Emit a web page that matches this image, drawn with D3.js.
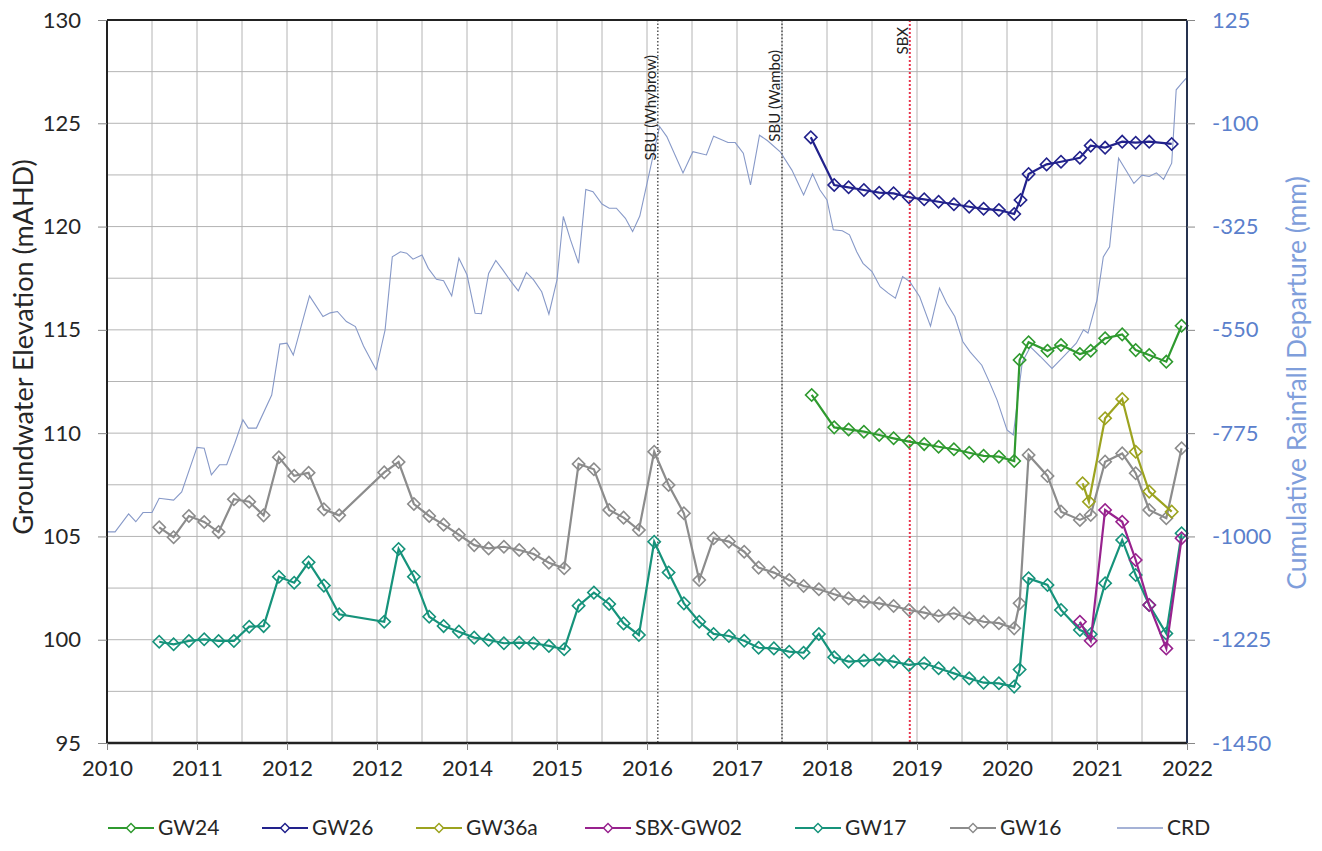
<!DOCTYPE html>
<html>
<head>
<meta charset="utf-8">
<script src="https://cdn.jsdelivr.net/npm/d3@7"></script>
<style>
	body { margin: 0; background: #fff; }
	text { font-family: Lato, "Open Sans", sans-serif; }
</style>
</head>
<body>
<div id="graph"></div>
<script>
// year tick labels as printed on the original (note the repeated 2012)
var yearTicks = [2010, 2011, 2012, 2013, 2014, 2015, 2016, 2017, 2018, 2019, 2020, 2021, 2022];
var yearLabels = ["2010", "2011", "2012", "2012", "2014", "2015", "2016", "2017", "2018", "2019", "2020", "2021", "2022"];
var elevTicks = [95, 100, 105, 110, 115, 120, 125, 130];
var crdTicks = [-1450, -1225, -1000, -775, -550, -325, -100, 125];

// [decimal year, groundwater elevation mAHD]
var gw16 = [[2010.58,105.44],[2010.74,104.96],[2010.91,105.99],[2011.08,105.70],[2011.24,105.21],[2011.41,106.80],[2011.58,106.68],[2011.74,106.02],[2011.91,108.83],[2012.08,107.93],[2012.24,108.08],[2012.41,106.31],[2012.58,106.02],[2013.08,108.10],[2013.24,108.60],[2013.41,106.57],[2013.58,105.99],[2013.74,105.57],[2013.91,105.08],[2014.08,104.58],[2014.24,104.42],[2014.41,104.50],[2014.58,104.34],[2014.74,104.15],[2014.91,103.73],[2015.08,103.46],[2015.24,108.51],[2015.41,108.25],[2015.58,106.28],[2015.74,105.91],[2015.91,105.31],[2016.08,109.10],[2016.24,107.49],[2016.41,106.12],[2016.58,102.89],[2016.74,104.91],[2016.91,104.75],[2017.08,104.26],[2017.24,103.49],[2017.41,103.25],[2017.58,102.89],[2017.74,102.60],[2017.91,102.44],[2018.08,102.20],[2018.24,102.00],[2018.41,101.84],[2018.58,101.76],[2018.74,101.63],[2018.91,101.44],[2019.08,101.31],[2019.24,101.15],[2019.41,101.28],[2019.58,101.04],[2019.74,100.87],[2019.91,100.80],[2020.08,100.55],[2020.14,101.76],[2020.24,108.94],[2020.45,107.93],[2020.60,106.20],[2020.81,105.80],[2020.93,106.04],[2021.09,108.62],[2021.28,109.02],[2021.43,108.06],[2021.58,106.28],[2021.77,105.88],[2021.94,109.27]];
var gw17 = [[2010.58,99.90],[2010.74,99.78],[2010.91,99.94],[2011.08,100.02],[2011.24,99.94],[2011.41,99.94],[2011.58,100.63],[2011.74,100.66],[2011.91,103.05],[2012.08,102.76],[2012.24,103.75],[2012.41,102.62],[2012.58,101.23],[2013.08,100.87],[2013.24,104.39],[2013.41,103.05],[2013.58,101.11],[2013.74,100.66],[2013.91,100.39],[2014.08,100.10],[2014.24,99.99],[2014.41,99.83],[2014.58,99.86],[2014.74,99.83],[2014.91,99.70],[2015.08,99.54],[2015.24,101.65],[2015.41,102.28],[2015.58,101.73],[2015.74,100.79],[2015.91,100.23],[2016.08,104.74],[2016.24,103.25],[2016.41,101.76],[2016.58,100.87],[2016.74,100.28],[2016.91,100.18],[2017.08,99.95],[2017.24,99.61],[2017.41,99.58],[2017.58,99.42],[2017.74,99.37],[2017.91,100.28],[2018.08,99.15],[2018.24,98.94],[2018.41,98.99],[2018.58,99.05],[2018.74,98.94],[2018.91,98.78],[2019.08,98.86],[2019.24,98.62],[2019.41,98.37],[2019.58,98.13],[2019.74,97.92],[2019.91,97.89],[2020.08,97.73],[2020.14,98.56],[2020.24,102.97],[2020.45,102.65],[2020.60,101.44],[2020.81,100.47],[2020.93,100.26],[2021.09,102.73],[2021.28,104.83],[2021.43,103.13],[2021.58,101.68],[2021.77,100.30],[2021.94,105.15]];
var gw24 = [[2017.83,111.85],[2018.08,110.28],[2018.24,110.18],[2018.41,110.07],[2018.58,109.91],[2018.74,109.75],[2018.91,109.59],[2019.08,109.47],[2019.24,109.34],[2019.41,109.22],[2019.58,109.05],[2019.74,108.90],[2019.91,108.86],[2020.08,108.65],[2020.14,113.54],[2020.24,114.40],[2020.45,113.99],[2020.60,114.27],[2020.81,113.83],[2020.93,113.99],[2021.09,114.59],[2021.28,114.78],[2021.43,114.02],[2021.58,113.78],[2021.77,113.46],[2021.94,115.20]];
var gw26 = [[2017.82,124.32],[2018.08,122.01],[2018.24,121.90],[2018.41,121.77],[2018.58,121.64],[2018.74,121.61],[2018.91,121.42],[2019.08,121.32],[2019.24,121.20],[2019.41,121.08],[2019.58,120.96],[2019.74,120.86],[2019.91,120.80],[2020.08,120.61],[2020.15,121.29],[2020.24,122.54],[2020.44,123.01],[2020.60,123.14],[2020.81,123.33],[2020.93,123.92],[2021.09,123.82],[2021.28,124.11],[2021.43,124.06],[2021.58,124.11],[2021.83,124.00]];
var gw36a = [[2020.84,107.57],[2020.91,106.68],[2021.09,110.72],[2021.28,111.65],[2021.43,109.10],[2021.58,107.17],[2021.83,106.20]];
var sbxgw02 = [[2020.81,100.87],[2020.93,99.95],[2021.09,106.28],[2021.28,105.71],[2021.43,103.86],[2021.58,101.68],[2021.77,99.58],[2021.94,104.91]];

// [decimal year, cumulative rainfall departure mm]
var crd = [[2010.00,-990],[2010.09,-990],[2010.24,-951],[2010.32,-968],[2010.40,-948],[2010.50,-948],[2010.58,-917],[2010.74,-921],[2010.83,-903],[2011.00,-806],[2011.08,-808],[2011.16,-866],[2011.25,-844],[2011.33,-844],[2011.42,-797],[2011.51,-746],[2011.57,-764],[2011.66,-764],[2011.83,-692],[2011.92,-581],[2012.00,-579],[2012.07,-605],[2012.25,-476],[2012.40,-521],[2012.48,-513],[2012.56,-510],[2012.66,-532],[2012.76,-543],[2012.85,-585],[2012.99,-637],[2013.09,-550],[2013.17,-391],[2013.26,-380],[2013.33,-383],[2013.40,-396],[2013.50,-387],[2013.57,-416],[2013.66,-440],[2013.74,-443],[2013.83,-476],[2013.91,-394],[2014.00,-430],[2014.09,-514],[2014.16,-515],[2014.24,-427],[2014.32,-399],[2014.40,-420],[2014.49,-445],[2014.57,-465],[2014.66,-425],[2014.74,-441],[2014.83,-467],[2014.91,-516],[2015.00,-441],[2015.07,-303],[2015.15,-354],[2015.24,-405],[2015.32,-244],[2015.40,-249],[2015.50,-276],[2015.58,-285],[2015.66,-285],[2015.76,-307],[2015.84,-336],[2015.92,-302],[2016.00,-231],[2016.14,-107],[2016.22,-129],[2016.40,-208],[2016.51,-162],[2016.66,-169],[2016.74,-128],[2016.90,-142],[2016.98,-142],[2017.07,-165],[2017.15,-234],[2017.25,-126],[2017.34,-138],[2017.48,-162],[2017.61,-202],[2017.74,-256],[2017.84,-210],[2017.92,-245],[2018.00,-267],[2018.07,-332],[2018.17,-334],[2018.25,-343],[2018.33,-380],[2018.40,-405],[2018.50,-423],[2018.59,-456],[2018.68,-470],[2018.76,-481],[2018.84,-434],[2018.92,-445],[2019.03,-478],[2019.15,-542],[2019.25,-459],[2019.33,-492],[2019.42,-521],[2019.51,-576],[2019.59,-598],[2019.72,-627],[2019.81,-666],[2019.89,-703],[2020.00,-768],[2020.07,-779],[2020.17,-620],[2020.26,-587],[2020.37,-608],[2020.50,-634],[2020.63,-608],[2020.77,-579],[2020.85,-550],[2020.90,-557],[2021.00,-485],[2021.07,-391],[2021.14,-369],[2021.24,-176],[2021.33,-205],[2021.41,-231],[2021.50,-213],[2021.58,-216],[2021.66,-208],[2021.74,-222],[2021.83,-187],[2021.88,-27],[2021.94,-13],[2021.99,-2]];

// mine approvals marked on the chart
var eventYears = [2016.12, 2017.5, 2018.92];
var eventNames = ["SBU (Whybrow)", "SBU (Wambo)", "SBX"];

var seriesNames = ["GW24", "GW26", "GW36a", "SBX-GW02", "GW17", "GW16"];
var seriesData = [gw24, gw26, gw36a, sbxgw02, gw17, gw16];
var colors = ["#2f9a2f", "#22228c", "#9ca31f", "#98228e", "#16937b", "#8c8c8c"];
var crdColor = "#8799c8";

var w = 1322, h = 851;
var padL = 107, padR = 1187, padT = 20, padB = 743;

var xScale = d3.scaleLinear().domain([2010, 2022]).range([padL, padR]);
var yScale = d3.scaleLinear().domain([95, 130]).range([padB, padT]);
var y2Scale = d3.scaleLinear().domain([-1450, 125]).range([padB, padT]);

var svg = d3.select("#graph").append("svg")
	.attr("width", w)
	.attr("height", h);

// grid
var grid = svg.append("g").attr("id", "grid");
grid.selectAll("line.vg")
	.data(d3.range(2010.5, 2022, 0.5))
	.enter().append("line")
	.attr("x1", function (d) { return xScale(d); })
	.attr("x2", function (d) { return xScale(d); })
	.attr("y1", padT).attr("y2", padB)
	.attr("stroke", "#b4b4b4").attr("stroke-width", 1);
grid.selectAll("line.hg")
	.data(d3.range(97.5, 130, 2.5))
	.enter().append("line")
	.attr("y1", function (d) { return yScale(d); })
	.attr("y2", function (d) { return yScale(d); })
	.attr("x1", padL).attr("x2", padR)
	.attr("stroke", "#b4b4b4").attr("stroke-width", 1);

// cumulative rainfall departure
var crdLine = d3.line()
	.x(function (d) { return xScale(d[0]); })
	.y(function (d) { return y2Scale(d[1]); });
svg.append("path")
	.datum(crd)
	.attr("fill", "none")
	.attr("stroke", crdColor)
	.attr("stroke-width", 1.1)
	.attr("d", crdLine);

// event lines
var labelEnd = [55, 50, 27];
eventYears.forEach(function (yr, i) {
	var x = xScale(yr);
	svg.append("line")
		.attr("x1", x).attr("x2", x)
		.attr("y1", padT).attr("y2", padB)
		.attr("stroke", i == 2 ? "#e8354d" : "#555")
		.attr("stroke-width", i == 2 ? 2 : 1.5)
		.attr("stroke-dasharray", i == 2 ? "2,2" : "1.5,2");
	svg.append("text")
		.attr("transform", "translate(" + (x - 2) + "," + labelEnd[i] + ") rotate(-90)")
		.attr("text-anchor", "end")
		.attr("font-size", "15px")
		.attr("fill", "#222")
		.text(eventNames[i]);
});

// groundwater series
var line = d3.line()
	.x(function (d) { return xScale(d[0]); })
	.y(function (d) { return yScale(d[1]); });
var diamond = d3.symbol().type(d3.symbolSquare).size(76);

var drawOrder = [5, 4, 0, 1, 2, 3];
drawOrder.forEach(function (i) {
	var g = svg.append("g").attr("class", "series");
	g.append("path")
		.datum(seriesData[i])
		.attr("fill", "none")
		.attr("stroke", colors[i])
		.attr("stroke-width", 2.2)
		.attr("d", line);
	g.selectAll("path.mk")
		.data(seriesData[i])
		.enter().append("path")
		.attr("class", "mk")
		.attr("d", diamond)
		.attr("transform", function (d) {
			return "translate(" + xScale(d[0]) + "," + yScale(d[1]) + ") rotate(45)";
		})
		.attr("fill", "none")
		.attr("stroke", colors[i])
		.attr("stroke-width", 1.6);
});

// frame
svg.append("line").attr("x1", padL).attr("x2", padR).attr("y1", padT).attr("y2", padT)
	.attr("stroke", "#222").attr("stroke-width", 2);
svg.append("line").attr("x1", padL).attr("x2", padR).attr("y1", padB).attr("y2", padB)
	.attr("stroke", "#222").attr("stroke-width", 2.5);
svg.append("line").attr("x1", padL).attr("x2", padL).attr("y1", padT).attr("y2", padB)
	.attr("stroke", "#222").attr("stroke-width", 2);
svg.append("line").attr("x1", padR).attr("x2", padR).attr("y1", padT).attr("y2", padB)
	.attr("stroke", "#26324f").attr("stroke-width", 2);

// axes
var xAxis = d3.axisBottom(xScale)
	.tickValues(yearTicks)
	.tickSize(7)
	.tickPadding(10)
	.tickFormat(function (d, i) { return yearLabels[i]; });
var gx = svg.append("g").attr("transform", "translate(0," + padB + ")").call(xAxis);

var yAxis = d3.axisLeft(yScale).tickValues(elevTicks).tickSize(9).tickPadding(17)
	.tickFormat(function (d) { return String(d); });
var gy = svg.append("g").attr("transform", "translate(" + padL + ",0)").call(yAxis);

var y2Axis = d3.axisRight(y2Scale).tickValues(crdTicks).tickSize(8).tickPadding(17)
	.tickFormat(function (d) { return String(d); });
var gy2 = svg.append("g").attr("transform", "translate(" + padR + ",0)").call(y2Axis);

[gx, gy, gy2].forEach(function (g) {
	g.select(".domain").remove();
	g.selectAll(".tick line").attr("stroke", "#888");
	g.selectAll("text").attr("font-family", "Lato, sans-serif").attr("font-size", "22px");
});
gx.selectAll("text").attr("fill", "#262626");
gy.selectAll("text").attr("fill", "#262626");
gy2.selectAll("text").attr("fill", "#5b80cc");

// axis titles
svg.append("text")
	.attr("transform", "translate(33,347) rotate(-90)")
	.attr("text-anchor", "middle")
	.attr("font-size", "27px")
	.attr("fill", "#262626")
	.text("Groundwater Elevation (mAHD)");
svg.append("text")
	.attr("transform", "translate(1306,383) rotate(-90)")
	.attr("text-anchor", "middle")
	.attr("font-size", "26.5px")
	.attr("fill", "#7f9edb")
	.text("Cumulative Rainfall Departure (mm)");

// legend
var legendX = [108, 262, 416, 585, 795, 950];
var legendY = 828;
var legend = svg.append("g").attr("id", "legend");
seriesNames.forEach(function (name, i) {
	var lx = legendX[i];
	legend.append("line")
		.attr("x1", lx).attr("x2", lx + 46)
		.attr("y1", legendY).attr("y2", legendY)
		.attr("stroke", colors[i]).attr("stroke-width", 2.2);
	legend.append("path")
		.attr("d", d3.symbol().type(d3.symbolSquare).size(40))
		.attr("transform", "translate(" + (lx + 23) + "," + legendY + ") rotate(45)")
		.attr("fill", "#fff")
		.attr("stroke", colors[i]).attr("stroke-width", 1.5);
	legend.append("text")
		.attr("x", lx + 50).attr("y", legendY)
		.attr("dy", "0.35em")
		.attr("font-size", "21px")
		.attr("fill", "#262626")
		.text(name);
});
legend.append("line")
	.attr("x1", 1117).attr("x2", 1163)
	.attr("y1", legendY).attr("y2", legendY)
	.attr("stroke", crdColor).attr("stroke-width", 1.5);
legend.append("text")
	.attr("x", 1167).attr("y", legendY)
	.attr("dy", "0.35em")
	.attr("font-size", "21px")
	.attr("fill", "#262626")
	.text("CRD");
</script>
</body>
</html>
